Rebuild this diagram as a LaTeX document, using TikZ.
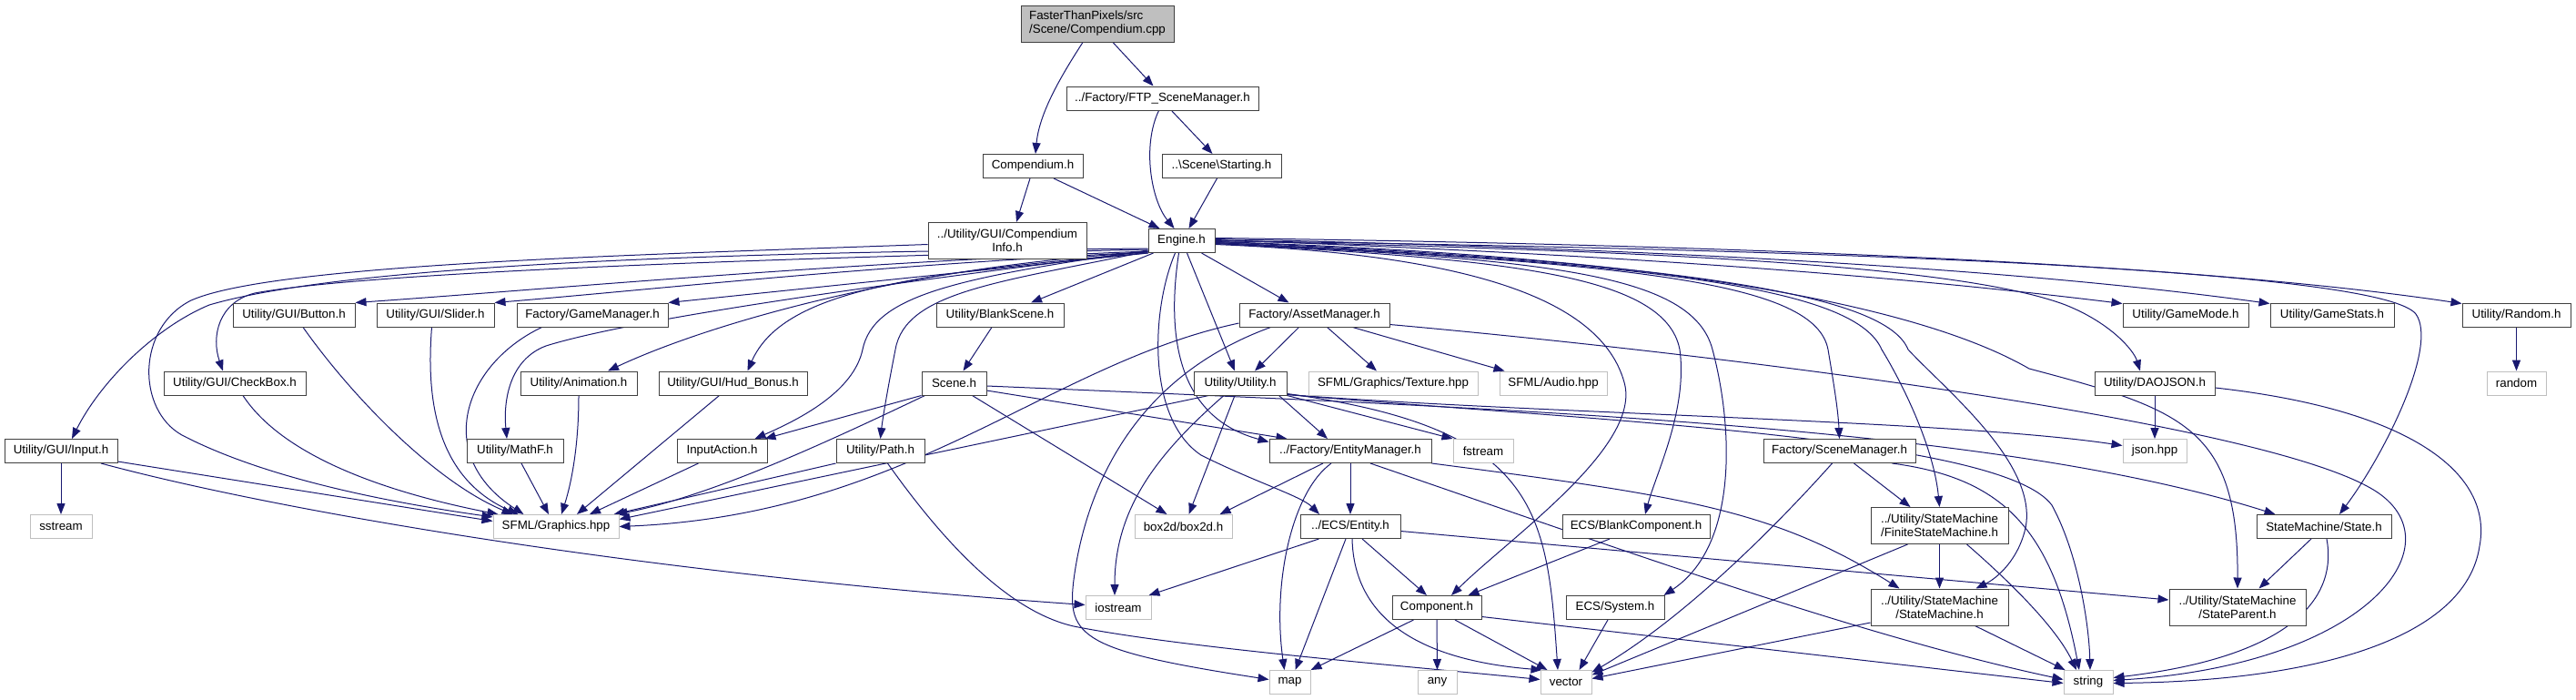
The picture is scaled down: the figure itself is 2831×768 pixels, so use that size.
\documentclass[tikz,border=0pt]{standalone}
\usepackage{fontspec}
\setmainfont{Liberation Sans}
\usetikzlibrary{arrows.meta,calc}
\definecolor{edgec}{HTML}{191970}
\definecolor{docb}{HTML}{404040}
\definecolor{extb}{HTML}{BFBFBF}
\definecolor{rootf}{HTML}{BFBFBF}
\pgfdeclarelayer{bg}
\pgfsetlayers{bg,main}
\begin{document}
\begin{tikzpicture}[x=0.75pt,y=-0.75pt,
 base/.style={rectangle, inner sep=0pt, line width=0.75pt, font=\fontsize{10}{11.25}\selectfont, minimum height=19.5pt, align=center},
 doc/.style={base, draw=docb, fill=white},
 ext/.style={base, draw=extb, fill=white},
 rootn/.style={base, draw=docb, fill=rootf, align=left, minimum height=30pt},
 two/.style={minimum height=30pt},
 edge/.style={draw=edgec, line width=0.75pt, -{Triangle[length=9pt,width=6.8pt]}}]
\begin{pgfonlayer}{bg}
\fill[white] (0,0) rectangle (2831,768);
\end{pgfonlayer}
\useasboundingbox (0,0) rectangle (2831,768);

% nodes
\node[rootn, minimum width=168*0.75pt] (root) at (1206,26) {FasterThanPixels/src\\/Scene/Compendium.cpp};
\node[doc, minimum width=211*0.75pt] (ftp) at (1277.5,108) {../Factory/FTP\_SceneManager.h};
\node[doc, minimum width=110*0.75pt] (comp) at (1135,182.5) {Compendium.h};
\node[doc, minimum width=131*0.75pt] (start) at (1342.5,182.5) {..\textbackslash Scene\textbackslash Starting.h};
\node[doc, two, minimum width=174*0.75pt] (cinfo) at (1107,264.5) {../Utility/GUI/Compendium\\Info.h};
\node[doc, minimum width=73*0.75pt] (engine) at (1298.5,264.5) {Engine.h};

\node[doc, minimum width=134*0.75pt] (button) at (323,346) {Utility/GUI/Button.h};
\node[doc, minimum width=129*0.75pt] (slider) at (478.5,346) {Utility/GUI/Slider.h};
\node[doc, minimum width=166*0.75pt] (gamemgr) at (651,346) {Factory/GameManager.h};
\node[doc, minimum width=140*0.75pt] (blank) at (1099,346) {Utility/BlankScene.h};
\node[doc, minimum width=165*0.75pt] (asset) at (1444.5,346) {Factory/AssetManager.h};
\node[doc, minimum width=138*0.75pt] (gamemode) at (2402,346) {Utility/GameMode.h};
\node[doc, minimum width=136*0.75pt] (gamestats) at (2563,346) {Utility/GameStats.h};
\node[doc, minimum width=119*0.75pt] (randomh) at (2765.5,346) {Utility/Random.h};

\node[doc, minimum width=156*0.75pt] (checkbox) at (258,421) {Utility/GUI/CheckBox.h};
\node[doc, minimum width=128*0.75pt] (anim) at (636,421) {Utility/Animation.h};
\node[doc, minimum width=163*0.75pt] (hud) at (805.5,421) {Utility/GUI/Hud\_Bonus.h};
\node[doc, minimum width=71*0.75pt] (scene) at (1048.5,421) {Scene.h};
\node[doc, minimum width=102*0.75pt] (utility) at (1363,421) {Utility/Utility.h};
\node[ext, minimum width=186*0.75pt] (texture) at (1531,421) {SFML/Graphics/Texture.hpp};
\node[ext, minimum width=118*0.75pt] (audio) at (1707,421) {SFML/Audio.hpp};
\node[doc, minimum width=132*0.75pt] (daojson) at (2368,421) {Utility/DAOJSON.h};
\node[ext, minimum width=65*0.75pt] (randomstd) at (2765.5,421) {random};

\node[doc, minimum width=124*0.75pt] (input) at (67,495.5) {Utility/GUI/Input.h};
\node[doc, minimum width=106*0.75pt] (mathf) at (566,495.5) {Utility/MathF.h};
\node[doc, minimum width=99*0.75pt] (inputaction) at (793.5,495.5) {InputAction.h};
\node[doc, minimum width=97*0.75pt] (path) at (967.5,495.5) {Utility/Path.h};
\node[doc, minimum width=178*0.75pt] (entitymgr) at (1484,495.5) {../Factory/EntityManager.h};
\node[ext, minimum width=66*0.75pt] (fstream) at (1630,495.5) {fstream};
\node[doc, minimum width=167*0.75pt] (scenemgr) at (2021.5,495.5) {Factory/SceneManager.h};
\node[ext, minimum width=70*0.75pt] (json) at (2368,495.5) {json.hpp};

\node[ext, minimum width=68*0.75pt] (sstream) at (67,578.5) {sstream};
\node[ext, minimum width=138*0.75pt] (sfmlgfx) at (611,578.5) {SFML/Graphics.hpp};
\node[ext, minimum width=107*0.75pt] (box2d) at (1300.5,578.5) {box2d/box2d.h};
\node[doc, minimum width=110*0.75pt] (entity) at (1484,578.5) {../ECS/Entity.h};
\node[doc, minimum width=162*0.75pt] (blankcomp) at (1798,578.5) {ECS/BlankComponent.h};
\node[doc, two, minimum width=151*0.75pt] (fsm) at (2131.5,577.5) {../Utility/StateMachine\\/FiniteStateMachine.h};
\node[doc, minimum width=148*0.75pt] (state) at (2554,578.5) {StateMachine/State.h};

\node[ext, minimum width=72*0.75pt] (iostream) at (1229,667.5) {iostream};
\node[doc, minimum width=98*0.75pt] (component) at (1579,667.5) {Component.h};
\node[doc, minimum width=108*0.75pt] (system) at (1775,667.5) {ECS/System.h};
\node[doc, two, minimum width=151*0.75pt] (statemachine) at (2131.5,667) {../Utility/StateMachine\\/StateMachine.h};
\node[doc, two, minimum width=150*0.75pt] (stateparent) at (2459,667) {../Utility/StateMachine\\/StateParent.h};

\node[ext, minimum width=45*0.75pt] (map) at (1417.5,749.5) {map};
\node[ext, minimum width=43*0.75pt] (any) at (1579.5,749.5) {any};
\node[ext, minimum width=56*0.75pt] (vector) at (1721,749.5) {vector};
\node[ext, minimum width=54*0.75pt] (string) at (2295,749.5) {string};

\begin{pgfonlayer}{bg}
% top
\draw[edge] ($(root.south)+(-16,0)$) .. controls (1165,85) and (1142,125) .. ($(comp.north)+(3,0)$);
\draw[edge] ($(root.south)+(17,0)$) -- ($(ftp.north)+(-10,0)$);
\draw[edge] ($(ftp.south)+(10,0)$) -- ($(start.north)+(-10,0)$);
\draw[edge] ($(ftp.south)+(-4,0)$) .. controls (1255,160) and (1265,220) .. ($(engine.north)+(-8,0)$);
\draw[edge] ($(comp.south)+(-3,0)$) -- ($(cinfo.north)+(10,0)$);
\draw[edge] ($(comp.south)+(23,0)$) -- ($(engine.north)+(-24,0)$);
\draw[edge] ($(start.south)+(-5,0)$) -- ($(engine.north)+(8,0)$);

% engine to the left
\draw[edge] ($(engine.south west)+(0,-2)$) .. controls (900,290) and (600,318) .. (button.north east);
\draw[edge] ($(engine.south west)+(0,-1)$) .. controls (950,292) and (720,318) .. (slider.north east);
\draw[edge] (engine.south west) -- (gamemgr.north east);
\draw[edge] ($(engine.south west)+(0,-4)$) .. controls (800,285) and (400,300) .. (280,322) .. controls (240,332) and (232,370) .. ($(checkbox.north)+(-13,0)$);
\draw[edge] ($(engine.south west)+(0,-5)$) .. controls (900,276) and (400,285) .. (230,335) .. controls (170,360) and (110,420) .. ($(input.north)+(12,0)$);
\draw[edge] ($(cinfo.west)+(0,4)$) .. controls (700,280) and (300,290) .. (210,330) .. controls (150,360) and (150,450) .. (200,478) .. controls (300,530) and (450,555) .. ($(sfmlgfx.north west)+(0,3)$);
\draw[edge] ($(engine.south west)+(0,-1)$) .. controls (1000,292) and (780,355) .. ($(anim.north)+(32,0)$);
\draw[edge] (engine.south west) .. controls (1000,300) and (860,320) .. ($(hud.north)+(16,0)$);
\draw[edge] ($(engine.south west)+(0,-2)$) .. controls (900,320) and (680,355) .. (600,380) .. controls (560,395) and (553,440) .. ($(mathf.north)+(-9,0)$);
\draw[edge] ($(engine.south west)+(0,-3)$) .. controls (1050,305) and (960,325) .. (948,384) .. controls (938,430) and (880,460) .. ($(inputaction.north east)+(-14,0)$);
\draw[edge] ($(engine.south west)+(0,-2)$) .. controls (1100,310) and (995,320) .. (984,384) .. controls (975,430) and (970,460) .. (path.north);
\draw[edge] ($(engine.south west)+(6,0)$) -- ($(blank.north)+(34,0)$);
\draw[edge] ($(engine.south)+(22,0)$) -- ($(asset.north)+(-28,0)$);
\draw[edge] ($(engine.south)+(6,0)$) -- ($(utility.north)+(-6,0)$);
\draw[edge] ($(engine.south)+(-3,0)$) .. controls (1280,380) and (1300,460) .. ($(entitymgr.west)+(0,-10)$);
\draw[edge] ($(engine.south)+(-7,0)$) .. controls (1265,340) and (1260,460) .. (1320,500) .. controls (1380,530) and (1430,545) .. ($(entity.north)+(-34,0)$);

% engine to the right
\draw[edge] ($(engine.east)+(0,4)$) .. controls (1620,280) and (1760,330) .. (1785,420) .. controls (1805,490) and (1660,590) .. ($(component.north)+(16,0)$);
\draw[edge] ($(engine.east)+(0,3)$) .. controls (1650,285) and (1830,300) .. (1846,384) .. controls (1855,450) and (1820,520) .. ($(blankcomp.north)+(10,0)$);
\draw[edge] ($(engine.east)+(0,3)$) .. controls (1700,285) and (1860,300) .. (1882,384) .. controls (1905,470) and (1910,600) .. ($(system.north east)+(-1,0)$);
\draw[edge] ($(engine.east)+(0,2)$) .. controls (1800,290) and (1995,310) .. (2009,384) .. controls (2015,420) and (2020,450) .. (scenemgr.north);
\draw[edge] ($(engine.east)+(0,2)$) .. controls (1850,290) and (2040,320) .. (2068,384) .. controls (2090,420) and (2125,490) .. (fsm.north);
\draw[edge] ($(engine.east)+(0,1)$) .. controls (1900,290) and (2075,330) .. (2097,384) .. controls (2140,430) and (2240,510) .. (2226,580) .. controls (2218,615) and (2195,635) .. ($(statemachine.north)+(40,0)$);
\draw[edge] ($(engine.east)+(0,1)$) .. controls (1800,280) and (2100,330) .. (2230,405) .. controls (2400,450) and (2460,470) .. (stateparent.north);
\draw[edge] (engine.east) .. controls (1800,275) and (2150,290) .. (2270,335) .. controls (2320,355) and (2345,385) .. ($(daojson.north)+(-16,0)$);
\draw[edge] (engine.east) .. controls (2100,275) and (2620,300) .. (2655,345) .. controls (2680,380) and (2620,500) .. ($(state.north)+(17,0)$);
\draw[edge] ($(engine.east)+(0,-1)$) .. controls (1800,280) and (2100,305) .. ($(gamemode.north west)+(0,1)$);
\draw[edge] ($(engine.east)+(0,-2)$) .. controls (1900,275) and (2250,300) .. ($(gamestats.north west)+(0,1)$);
\draw[edge] ($(engine.east)+(0,-3)$) .. controls (2000,270) and (2450,295) .. ($(randomh.north west)+(0,1)$);

% asset manager
\draw[edge] ($(asset.south)+(-17,0)$) -- ($(utility.north)+(16,0)$);
\draw[edge] ($(asset.south)+(14,0)$) -- ($(texture.north)+(-18,0)$);
\draw[edge] ($(asset.south east)+(-41,0)$) -- ($(audio.north west)+(6,0)$);
\draw[edge] ($(asset.south east)+(0,-3)$) .. controls (1900,390) and (2500,465) .. (2613,541) .. controls (2700,600) and (2600,730) .. ($(string.east)+(0,-2)$);
\draw[edge] ($(asset.west)+(0,9)$) .. controls (1150,400) and (1000,565) .. (sfmlgfx.east);
\draw[edge] ($(asset.south west)+(35,0)$) .. controls (1230,420) and (1190,560) .. (1180,637) .. controls (1172,700) and (1190,715) .. ($(map.west)+(0,-3)$);

% utility
\draw[edge] ($(utility.south west)+(17,0)$) -- ($(sfmlgfx.east)+(0,-8)$);
\draw[edge] ($(utility.south)+(-18,0)$) .. controls (1270,500) and (1225,560) .. ($(iostream.north)+(-4,0)$);
\draw[edge] ($(utility.south)+(-6,0)$) -- ($(box2d.north)+(6,0)$);
\draw[edge] (utility.south east) -- (fstream.north west);
\draw[edge] ($(utility.south east)+(-9,0)$) -- ($(entitymgr.north)+(-25,0)$);
\draw[edge] ($(utility.south east)+(0,-2)$) .. controls (1690,470) and (1700,560) .. ($(vector.north)+(-9,0)$);
\draw[edge] ($(utility.south east)+(0,-1)$) .. controls (1700,455) and (2150,462) .. ($(json.west)+(0,-6)$);
\draw[edge] ($(utility.south east)+(0,-1)$) .. controls (1750,462) and (2200,480) .. (2255,555) .. controls (2285,610) and (2296,690) .. ($(string.north)+(2,0)$);

% scene
\draw[edge] ($(blank.south)+(-9,0)$) -- ($(scene.north)+(10,0)$);
\draw[edge] (scene.south west) -- ($(inputaction.north east)+(-3,0)$);
\draw[edge] ($(scene.south west)+(4,0)$) .. controls (900,490) and (780,545) .. ($(sfmlgfx.north east)+(-3,0)$);
\draw[edge] ($(scene.south)+(20,0)$) -- ($(box2d.north)+(-18,0)$);
\draw[edge] ($(scene.east)+(0,8)$) -- ($(entitymgr.north west)+(20,0)$);
\draw[edge] ($(scene.east)+(0,3)$) .. controls (1700,450) and (2200,470) .. ($(state.north west)+(21,0)$);

% into SFML/Graphics.hpp
\draw[edge] (path.south west) -- ($(sfmlgfx.north east)+(-6,0)$);
\draw[edge] ($(path.south)+(8,0)$) .. controls (1040,600) and (1110,672) .. (1180,688) .. controls (1300,712) and (1550,732) .. ($(vector.west)+(0,-3)$);
\draw[edge] ($(inputaction.south west)+(24,0)$) -- ($(sfmlgfx.north)+(37,0)$);
\draw[edge] ($(hud.south west)+(67,0)$) -- ($(sfmlgfx.north)+(23,0)$);
\draw[edge] (anim.south) .. controls (636,500) and (625,540) .. ($(sfmlgfx.north)+(6,0)$);
\draw[edge] ($(mathf.south)+(7,0)$) -- ($(sfmlgfx.north)+(-8,0)$);
\draw[edge] ($(button.south)+(10,0)$) .. controls (390,440) and (480,530) .. ($(sfmlgfx.north west)+(22,0)$);
\draw[edge] ($(slider.south)+(-4,0)$) .. controls (468,440) and (480,525) .. ($(sfmlgfx.north west)+(28,0)$);
\draw[edge] ($(gamemgr.south west)+(28,0)$) .. controls (510,400) and (475,500) .. ($(sfmlgfx.north west)+(34,0)$);
\draw[edge] ($(checkbox.south)+(9,0)$) .. controls (310,500) and (420,540) .. ($(sfmlgfx.north west)+(6,0)$);
\draw[edge] ($(input.south east)+(0,-2)$) -- ($(sfmlgfx.west)+(0,-6)$);
\draw[edge] (input.south) -- (sstream.north);
\draw[edge] ($(input.south)+(44,0)$) .. controls (300,560) and (700,630) .. ($(iostream.west)+(0,-3)$);

% ECS
\draw[edge] (entitymgr.south) -- (entity.north);
\draw[edge] ($(entitymgr.south)+(-21,0)$) .. controls (1420,540) and (1398,640) .. ($(map.north)+(-6,0)$);
\draw[edge] ($(entitymgr.south)+(-30,0)$) -- ($(box2d.north east)+(-14,0)$);
\draw[edge] ($(entitymgr.south)+(22,0)$) .. controls (1800,610) and (2050,700) .. ($(string.west)+(0,-3)$);
\draw[edge] (entitymgr.south east) .. controls (1850,545) and (1950,560) .. ($(statemachine.north west)+(32,0)$);
\draw[edge] ($(entity.south west)+(21,0)$) -- ($(iostream.north east)+(-3,0)$);
\draw[edge] ($(entity.south)+(-5,0)$) -- ($(map.north)+(6,0)$);
\draw[edge] ($(entity.south)+(13,0)$) -- ($(component.north)+(-11,0)$);
\draw[edge] ($(entity.south)+(2,0)$) .. controls (1488,680) and (1560,725) .. ($(vector.north west)+(2,0)$);
\draw[edge] ($(entity.east)+(0,5)$) -- ($(stateparent.west)+(0,-8)$);
\draw[edge] ($(component.south west)+(24,0)$) -- (map.north east);
\draw[edge] (component.south) -- (any.north);
\draw[edge] ($(component.south)+(20,0)$) -- ($(vector.north west)+(8,0)$);
\draw[edge] ($(component.east)+(0,10)$) -- ($(string.west)+(0,1)$);
\draw[edge] ($(blankcomp.south)+(-29,0)$) -- ($(component.north east)+(-15,0)$);
\draw[edge] ($(system.south)+(-8,0)$) -- ($(vector.north east)+(-14,0)$);

% state machines
\draw[edge] ($(scenemgr.south)+(-8,0)$) .. controls (1950,580) and (1850,680) .. ($(vector.east)+(0,-11)$);
\draw[edge] ($(scenemgr.south)+(16,0)$) -- ($(fsm.north west)+(44,0)$);
\draw[edge] ($(scenemgr.south east)+(-26,0)$) .. controls (2200,525) and (2255,580) .. ($(string.north)+(-10,0)$);
\draw[edge] (fsm.south) -- (statemachine.north);
\draw[edge] ($(fsm.south west)+(41,0)$) -- ($(vector.east)+(0,-8)$);
\draw[edge] ($(fsm.south)+(30,0)$) .. controls (2210,640) and (2260,690) .. ($(string.north)+(-13,0)$);
\draw[edge] ($(statemachine.west)+(0,17)$) -- ($(vector.east)+(0,-4)$);
\draw[edge] ($(statemachine.south)+(39,0)$) -- ($(string.north west)+(2,0)$);
\draw[edge] ($(state.south)+(-14,0)$) -- ($(stateparent.north east)+(-52,0)$);
\draw[edge] ($(state.south)+(3,0)$) .. controls (2568,650) and (2530,720) .. ($(string.east)+(0,-5)$);
\draw[edge] (daojson.south) -- (json.north);
\draw[edge] ($(daojson.east)+(0,5)$) .. controls (2650,450) and (2740,520) .. (2725,600) .. controls (2710,700) and (2550,748) .. ($(string.east)+(0,1)$);
\draw[edge] (randomh.south) -- (randomstd.north);
\end{pgfonlayer}
\end{tikzpicture}
\end{document}
